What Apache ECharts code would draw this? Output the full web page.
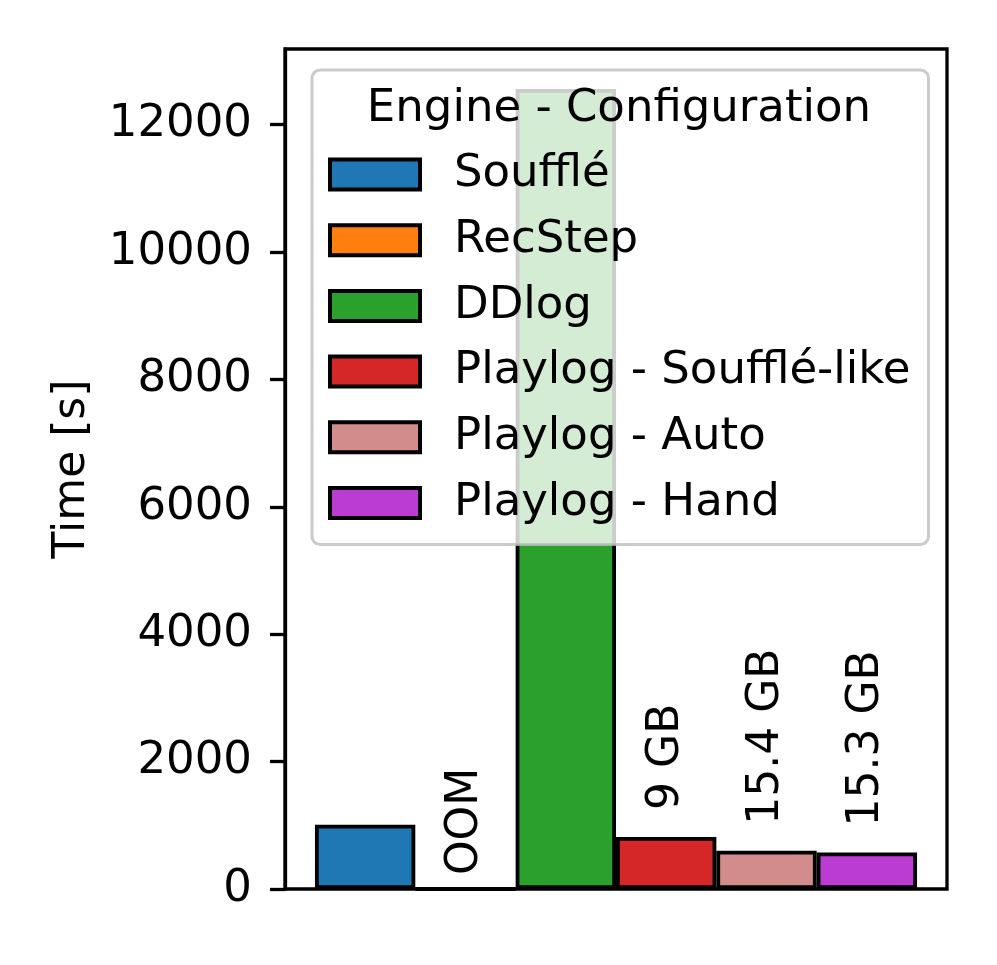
<!DOCTYPE html>
<html>
<head>
<meta charset="utf-8">
<script src="https://cdn.jsdelivr.net/npm/echarts@6/dist/echarts.min.js"></script>
<style>
  html, body { margin: 0; padding: 0; background: #fff; }
  #chart { width: 997px; height: 965px; }
</style>
</head>
<body>
<div id="chart"></div>
<script>
// data
const engines = ['Soufflé', 'RecStep', 'DDlog', 'Playlog - Soufflé-like', 'Playlog - Auto', 'Playlog - Hand']
const times = [1010, 0, 12560, 818, 600, 572]
const memLabels = ['', 'OOM', '', '9 GB', '15.4 GB', '15.3 GB']
const yTicks = [0, 2000, 4000, 6000, 8000, 10000, 12000]

const colors = ['#1f77b4', '#ff7f0e', '#2ca02c', '#d62728', '#d28c8c', '#bb3cd2']
const labelDist = [0, 12, 0, 27, 26, 26] // gap between bar top and rotated label
const font = 'DejaVu Sans'
const yMax = Math.max(...times) * 1.05 // same headroom as matplotlib autoscale

const chart = echarts.init(document.getElementById('chart'))

const option = {
  animation: false,
  grid: {
    left: 285,
    right: 50,
    top: 49,
    bottom: 76,
    show: true,
    borderColor: '#000',
    borderWidth: 3.3,
    backgroundColor: 'transparent',
  },
  xAxis: {
    type: 'category',
    data: [''],
    axisLine: { show: false },
    axisTick: { show: false },
    axisLabel: { show: false },
  },
  yAxis: {
    type: 'value',
    min: 0,
    max: yMax,
    name: 'Time [s]',
    nameLocation: 'middle',
    nameRotate: 90,
    nameGap: 190,
    nameTextStyle: { fontSize: 44, fontFamily: font, color: '#000' },
    splitLine: { show: false },
    axisLine: { show: true, lineStyle: { color: '#000', width: 3.3 } },
    axisTick: {
      show: true,
      length: 15,
      customValues: yTicks,
      lineStyle: { color: '#000', width: 3.3 },
    },
    axisLabel: {
      customValues: yTicks,
      formatter: (v) => String(v),
      margin: 33,
      fontSize: 45,
      fontFamily: font,
      color: '#000',
    },
  },
  legend: {
    orient: 'vertical',
    left: 312,
    top: 70,
    padding: [82, 18, 19, 16],
    itemWidth: 90,
    itemHeight: 30,
    itemGap: 20.7,
    icon: 'rect',
    selectedMode: false,
    backgroundColor: 'rgba(255,255,255,0.8)',
    borderColor: 'rgba(190,190,190,0.8)',
    borderWidth: 3,
    borderRadius: 8,
    itemStyle: { borderColor: '#000', borderWidth: 4 },
    textStyle: {
      fontSize: 45,
      fontFamily: font,
      color: '#000',
      padding: [0, 0, 0, 29],
    },
    data: engines,
  },
  graphic: [
    {
      type: 'text',
      x: 619,
      y: 109,
      z: 100,
      style: {
        text: 'Engine - Configuration',
        font: '45px "DejaVu Sans"',
        fill: '#000',
        align: 'center',
        verticalAlign: 'middle',
      },
    },
  ],
  series: engines.map((name, i) => ({
    name: name,
    type: 'bar',
    data: [times[i]],
    barGap: '0%',
    barCategoryGap: '9.05%',
    itemStyle: { color: colors[i], borderColor: '#000', borderWidth: 3.8 },
    emphasis: { disabled: true },
    label: {
      show: memLabels[i] !== '',
      formatter: memLabels[i],
      position: 'top',
      rotate: 90,
      align: 'left',
      verticalAlign: 'middle',
      distance: labelDist[i],
      fontSize: 44,
      fontFamily: font,
      color: '#000',
    },
  })),
}

chart.setOption(option)
window.addEventListener('resize', () => {
  chart.resize()
})
</script>
</body>
</html>
